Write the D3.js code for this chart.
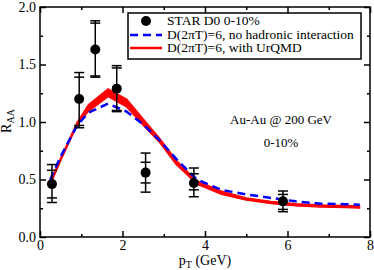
<!DOCTYPE html>
<html>
<head>
<meta charset="utf-8">
<script src="https://cdn.jsdelivr.net/npm/d3@7"></script>
<style>
  body { margin: 0; background: #fff; }
  text { font-family: 'Liberation Serif', 'Times New Roman', Times, 'DejaVu Serif', serif !important; }
</style>
</head>
<body>
<svg id="chart" width="374" height="270"></svg>
<script>
// STAR D0 data points, 0-10%
const dataPt = [0.29, 0.95, 1.34, 1.86, 2.56, 3.73, 5.89];
const dataR = [0.46, 1.20, 1.63, 1.29, 0.56, 0.47, 0.31];
const statHi = [0.58, 1.39, 1.86, 1.47, 0.65, 0.55, 0.37];
const statLo = [0.34, 0.97, 1.40, 1.10, 0.47, 0.41, 0.24];
const sysHi = [0.63, 1.43, 1.88, 1.49, 0.73, 0.60, 0.40];
const sysLo = [0.30, 0.95, 1.39, 1.09, 0.39, 0.35, 0.22];

// model curves
const curvePt = [0.25, 0.5, 0.9, 1.17, 1.65, 2.1, 2.5, 2.9, 3.3, 3.8, 4.4, 5.0, 5.6, 6.2, 6.8, 7.4, 7.75];
const noHadR = [0.50, 0.70, 0.97, 1.08, 1.16, 1.09, 0.98, 0.84, 0.68, 0.50, 0.41, 0.37, 0.34, 0.31, 0.29, 0.285, 0.28];
const urqmdLo = [0.45, 0.66, 0.97, 1.09, 1.22, 1.13, 0.97, 0.82, 0.63, 0.46, 0.37, 0.32, 0.29, 0.27, 0.26, 0.255, 0.25];
const urqmdHi = [0.48, 0.69, 1.00, 1.15, 1.29, 1.20, 1.03, 0.86, 0.67, 0.49, 0.40, 0.34, 0.31, 0.29, 0.28, 0.275, 0.27];

const xTicks = [0, 2, 4, 6, 8];
const xMinor = [1, 3, 5, 7];
const yTicks = [0, 0.5, 1.0, 1.5, 2.0];
const yMinor = [0.25, 0.75, 1.25, 1.75];

const legendLabels = ['STAR D0 0-10%', 'D(2\u03c0T)=6, no hadronic interaction', 'D(2\u03c0T)=6, with UrQMD'];

const serif = "'Liberation Serif', 'Times New Roman', Times, 'DejaVu Serif', serif";
const svg = d3.select('#chart').attr('font-family', serif);
const mLeft = 40, mTop = 7, mRight = 370, mBottom = 237;

const x = d3.scaleLinear().domain([0, 8]).range([mLeft, mRight]);
const y = d3.scaleLinear().domain([0, 2]).range([mBottom, mTop]);

// red band (with UrQMD)
const band = curvePt.map((p, i) => ({ p: p, lo: urqmdLo[i], hi: urqmdHi[i] }));
svg.append('path')
  .datum(band)
  .attr('d', d3.area().x(d => x(d.p)).y0(d => y(d.lo)).y1(d => y(d.hi)))
  .attr('fill', '#ff0000')
  .attr('stroke', '#ff0000')
  .attr('stroke-width', 1.2)
  .attr('stroke-linejoin', 'round');

// blue dashed (no hadronic interaction)
svg.append('path')
  .datum(curvePt.map((p, i) => [p, noHadR[i]]))
  .attr('d', d3.line().x(d => x(d[0])).y(d => y(d[1])))
  .attr('fill', 'none')
  .attr('stroke', '#0000ff')
  .attr('stroke-width', 2.5)
  .attr('stroke-dasharray', '8,5');

// error bars
const pts = dataPt.map((p, i) => ({ p: p, r: dataR[i], sh: statHi[i], sl: statLo[i], yh: sysHi[i], yl: sysLo[i] }));
const eb = svg.append('g').attr('stroke', '#000').attr('stroke-width', 1.5);
pts.forEach(d => {
  const cx = x(d.p);
  eb.append('line').attr('x1', cx).attr('x2', cx).attr('y1', y(d.yh)).attr('y2', y(d.yl));
  [d.sh, d.sl, d.yh, d.yl].forEach(v => {
    eb.append('line').attr('x1', cx - 5).attr('x2', cx + 5).attr('y1', y(v)).attr('y2', y(v));
  });
});
svg.append('g').selectAll('circle')
  .data(pts)
  .enter()
  .append('circle')
  .attr('cx', d => x(d.p))
  .attr('cy', d => y(d.r))
  .attr('r', 5)
  .attr('fill', '#000');

// axes, ticks pointing inward
function styleAxis(g) {
  g.attr('font-family', serif);
  g.select('.domain').remove();
  g.selectAll('line').attr('stroke', '#000').attr('stroke-width', 1.5);
  g.selectAll('text').attr('font-size', 14).attr('fill', '#000');
}

svg.append('g').attr('transform', `translate(0,${mBottom})`)
  .call(d3.axisBottom(x).tickValues(xTicks).tickFormat(d3.format('d')).tickSizeInner(-6).tickSizeOuter(0).tickPadding(3))
  .call(styleAxis);
svg.append('g').attr('transform', `translate(0,${mBottom})`)
  .call(d3.axisBottom(x).tickValues(xMinor).tickFormat('').tickSizeInner(-3).tickSizeOuter(0))
  .call(styleAxis);
svg.append('g').attr('transform', `translate(0,${mTop})`)
  .call(d3.axisTop(x).tickValues(xTicks).tickFormat('').tickSizeInner(-6).tickSizeOuter(0))
  .call(styleAxis);
svg.append('g').attr('transform', `translate(0,${mTop})`)
  .call(d3.axisTop(x).tickValues(xMinor).tickFormat('').tickSizeInner(-3).tickSizeOuter(0))
  .call(styleAxis);

svg.append('g').attr('transform', `translate(${mLeft},0)`)
  .call(d3.axisLeft(y).tickValues(yTicks).tickFormat(d3.format('.1f')).tickSizeInner(-6).tickSizeOuter(0).tickPadding(4))
  .call(styleAxis);
svg.append('g').attr('transform', `translate(${mLeft},0)`)
  .call(d3.axisLeft(y).tickValues(yMinor).tickFormat('').tickSizeInner(-3).tickSizeOuter(0))
  .call(styleAxis);
svg.append('g').attr('transform', `translate(${mRight},0)`)
  .call(d3.axisRight(y).tickValues(yTicks).tickFormat('').tickSizeInner(-6).tickSizeOuter(0))
  .call(styleAxis);
svg.append('g').attr('transform', `translate(${mRight},0)`)
  .call(d3.axisRight(y).tickValues(yMinor).tickFormat('').tickSizeInner(-3).tickSizeOuter(0))
  .call(styleAxis);

// frame
svg.append('rect')
  .attr('x', mLeft).attr('y', mTop)
  .attr('width', mRight - mLeft).attr('height', mBottom - mTop)
  .attr('fill', 'none').attr('stroke', '#000').attr('stroke-width', 1.5);

// axis titles
const xl = svg.append('text')
  .attr('x', 205).attr('y', 265)
  .attr('text-anchor', 'middle')
  .attr('font-size', 14);
xl.append('tspan').text('p');
xl.append('tspan').attr('font-size', 10).attr('dy', 3).text('T');
xl.append('tspan').attr('dy', -3).text(' (GeV)');

const yl = svg.append('text')
  .attr('transform', 'translate(11,121) rotate(-90)')
  .attr('text-anchor', 'middle')
  .attr('font-size', 14);
yl.append('tspan').text('R');
yl.append('tspan').attr('font-size', 10).attr('dy', 3).text('AA');

// legend
const lg = svg.append('g');
lg.append('rect')
  .attr('x', 128).attr('y', 13).attr('width', 233).attr('height', 46)
  .attr('fill', '#fff').attr('stroke', '#000').attr('stroke-width', 1.5);
lg.append('circle').attr('cx', 146).attr('cy', 21).attr('r', 5).attr('fill', '#000');
lg.append('line').attr('x1', 130).attr('x2', 162).attr('y1', 35).attr('y2', 35)
  .attr('stroke', '#0000ff').attr('stroke-width', 2.5).attr('stroke-dasharray', '8,5');
lg.append('line').attr('x1', 130).attr('x2', 162).attr('y1', 48).attr('y2', 48)
  .attr('stroke', '#ff0000').attr('stroke-width', 2.5);
legendLabels.forEach((t, i) => {
  lg.append('text')
    .attr('x', 167).attr('y', 25 + i * 13.5)
    .attr('font-size', 13.5)
    .text(t);
});

// annotations
svg.append('text').attr('x', 281).attr('y', 124)
  .attr('text-anchor', 'middle').attr('font-size', 13).text('Au-Au @ 200 GeV');
svg.append('text').attr('x', 281).attr('y', 147)
  .attr('text-anchor', 'middle').attr('font-size', 13).text('0-10%');
</script>
</body>
</html>
